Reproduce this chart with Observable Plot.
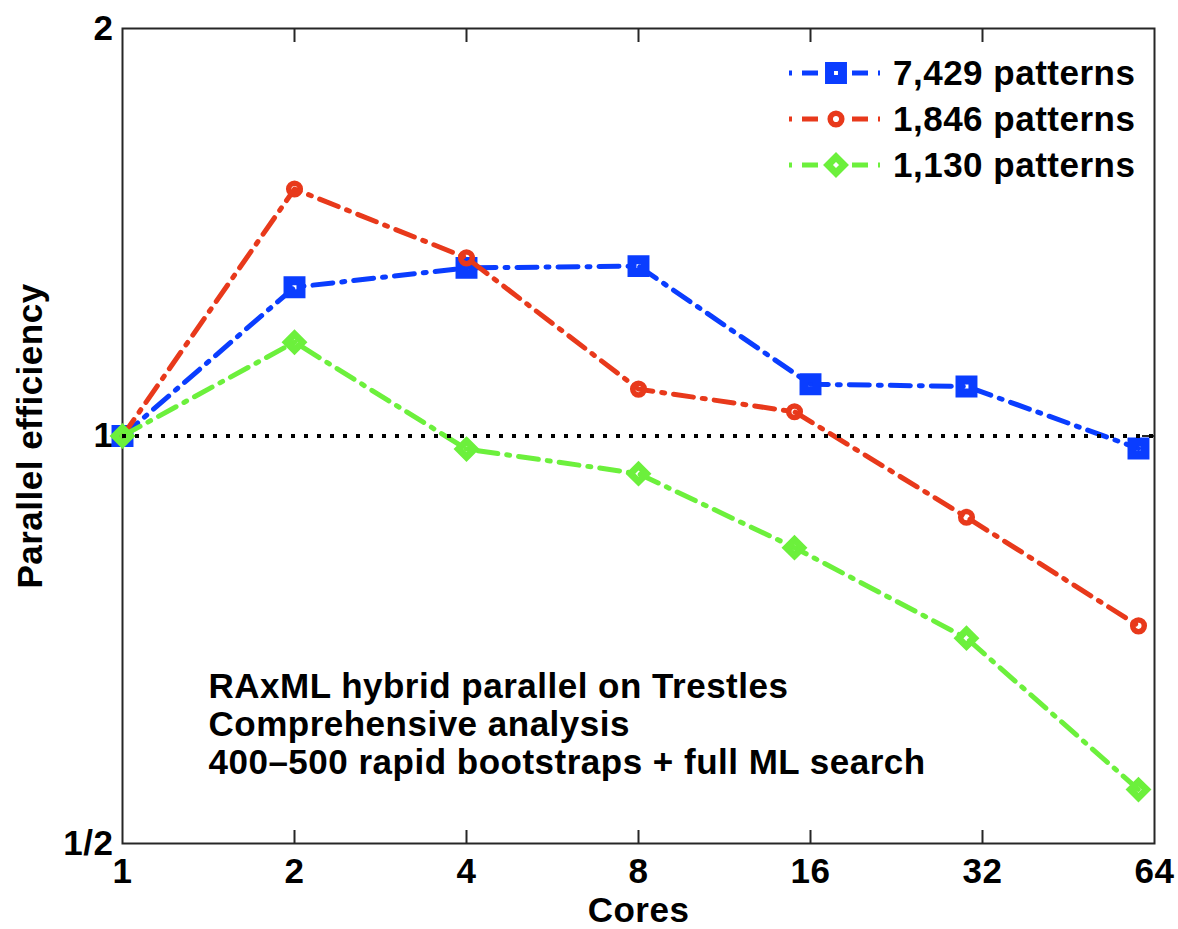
<!DOCTYPE html>
<html><head><meta charset="utf-8">
<script src="https://cdn.jsdelivr.net/npm/d3@7"></script>
<script src="https://cdn.jsdelivr.net/npm/@observablehq/plot@0.6"></script>
<style>
body{margin:0;background:#fff}
#wrap{position:relative;width:1178px;height:929px}
#wrap svg.legend{position:absolute;left:0;top:0}
#wrap svg text{letter-spacing:0.5px}
</style>
</head><body><div id="wrap"></div>
<script>
const seriesNames = ["7,429 patterns", "1,846 patterns", "1,130 patterns"];
const seriesColors = ["#0a3dff", "#e8391b", "#6cf03c"];
const seriesSymbols = ["square", "circle", "diamond2"];
const cores7429 = [1, 2, 4, 8, 16, 30, 60];
const eff7429 = [1, 1.288, 1.331, 1.335, 1.092, 1.088, 0.979];
const cores1846 = [1, 2, 4, 8, 15, 30, 60];
const eff1846 = [1, 1.522, 1.354, 1.083, 1.042, 0.871, 0.724];
const cores1130 = [1, 2, 4, 8, 15, 30, 60];
const eff1130 = [1, 1.173, 0.978, 0.938, 0.827, 0.709, 0.548];
const xTicks = [1, 2, 4, 8, 16, 32, 64];
const yTicks = [0.5, 1, 2];
const yTickLabels = ["1/2", "1", "2"];
const xLabel = "Cores";
const yLabel = "Parallel efficiency";
const annotationLines = ["RAxML hybrid parallel on Trestles", "Comprehensive analysis", "400\u2013500 rapid bootstraps + full ML search"];

const seriesCores = [cores7429, cores1846, cores1130];
const seriesEff = [eff7429, eff1846, eff1130];
const seriesData = seriesNames.map((name, i) => seriesCores[i].map((c, j) => ({cores: c, eff: seriesEff[i][j], series: name})));

const FONT = "'Liberation Sans', Arial, Helvetica, sans-serif";
const FS = 35;
const dashDot = "20,9,3,9";
const symbolR = {square: 7.3, circle: 5.8, diamond2: 7.2};
const symbolSW = {square: 9, circle: 5.5, diamond2: 7};

const innerTicks = xTicks.slice(1, -1);
const marks = [
  Plot.frame({stroke: "#262626", strokeWidth: 2}),
  Plot.axisX(innerTicks, {anchor: "bottom", tickSize: -13, strokeWidth: 2, stroke: "#262626", tickFormat: () => "", label: null}),
  Plot.axisX(innerTicks, {anchor: "top", tickSize: -13, strokeWidth: 2, stroke: "#262626", tickFormat: () => "", label: null}),
  Plot.axisY([1], {anchor: "left", tickSize: -13, strokeWidth: 2, stroke: "#262626", tickFormat: () => "", label: null}),
  Plot.axisY([1], {anchor: "right", tickSize: -13, strokeWidth: 2, stroke: "#262626", tickFormat: () => "", label: null}),
  Plot.axisX(xTicks, {anchor: "bottom", tickSize: 0, tickPadding: 15, fontSize: FS, lineAnchor: "top", tickFormat: d => String(d), label: null}),
  Plot.axisY(yTicks, {anchor: "left", tickSize: 0, tickPadding: 9, fontSize: FS, tickFormat: d => yTickLabels[yTicks.indexOf(d)], label: null}),
  Plot.text([xLabel], {frameAnchor: "bottom", dy: 54, lineAnchor: "top", fontSize: FS, text: d => d}),
  Plot.text([yLabel], {frameAnchor: "left", dx: -92, rotate: -90, textAnchor: "middle", lineAnchor: "middle", fontSize: FS, text: d => d}),
  Plot.text([annotationLines.join("\n")], {frameAnchor: "top-left", dx: 86, dy: 642, textAnchor: "start", lineAnchor: "top", lineHeight: 1.09, fontSize: FS, text: d => d})
];
seriesData.forEach((data, i) => {
  marks.push(Plot.line(data, {x: "cores", y: "eff", stroke: seriesColors[i], strokeWidth: 5, strokeDasharray: dashDot}));
  const s = seriesSymbols[i];
  marks.push(Plot.dot(data, {x: "cores", y: "eff", symbol: s, r: symbolR[s], stroke: seriesColors[i], strokeWidth: symbolSW[s], fill: "none", strokeLinejoin: "miter"}));
});
marks.push(Plot.ruleY([1], {stroke: "#000", strokeWidth: 4, strokeDasharray: "4,9"}));

const chart = Plot.plot({
  width: 1178, height: 929,
  marginLeft: 122, marginRight: 24, marginTop: 28, marginBottom: 86,
  style: {fontFamily: FONT, fontWeight: "bold", background: "#fff", color: "#000", overflow: "visible"},
  x: {type: "log", base: 2, domain: [1, 64], axis: null},
  y: {type: "log", base: 2, domain: [0.5, 2], axis: null},
  marks
});
const wrap = document.getElementById("wrap");
wrap.appendChild(chart);

// legend overlay
const lg = d3.select(wrap).append("svg").attr("class", "legend").attr("width", 1178).attr("height", 929)
  .style("font-family", FONT).style("font-weight", "bold");
const rowY = [73, 119, 165];
seriesNames.forEach((name, i) => {
  const g = lg.append("g").attr("transform", `translate(0,${rowY[i]})`);
  g.append("line").attr("x1", 789).attr("x2", 880).attr("y1", 0).attr("y2", 0)
    .attr("stroke", seriesColors[i]).attr("stroke-width", 5).attr("stroke-dasharray", "3,10,16,34,16,10,3");
  const s = seriesSymbols[i];
  const symType = {square: d3.symbolSquare, circle: d3.symbolCircle, diamond2: d3.symbolDiamond2}[s];
  g.append("path").attr("transform", "translate(836,0)")
    .attr("d", d3.symbol(symType, Math.PI * symbolR[s] * symbolR[s])())
    .attr("fill", "none").attr("stroke", seriesColors[i]).attr("stroke-width", symbolSW[s]);
  g.append("text").attr("x", 893).attr("y", 0).attr("dy", "0.35em").attr("font-size", FS).attr("fill", "#000").text(name);
});
</script></body></html>
